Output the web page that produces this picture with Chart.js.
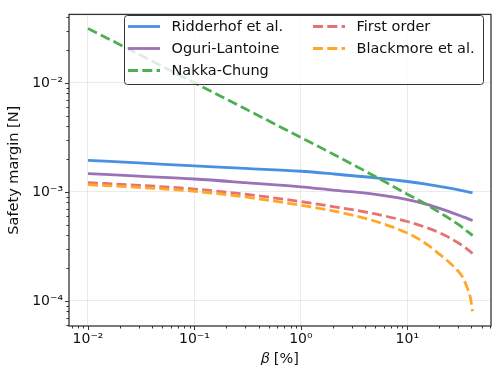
<!DOCTYPE html>
<html>
<head>
<meta charset="utf-8">
<script src="https://cdn.jsdelivr.net/npm/chart.js@4.4.1/dist/chart.umd.min.js"></script>
<style>
  body { margin: 0; background: #fff; }
  canvas { display: block; }
</style>
</head>
<body>
<canvas id="chart" width="499" height="375"></canvas>
<script>
// beta values [%] along the x axis
const beta = [0.01, 0.03, 0.1, 0.3, 1, 2, 5, 10, 15, 20, 25, 31, 33.6, 36, 39, 41];

// safety margin [N]
const ridderhof  = [1.941e-3, 1.837e-3, 1.730e-3, 1.637e-3, 1.542e-3, 1.459e-3, 1.343e-3, 1.242e-3, 1.175e-3, 1.122e-3, 1.079e-3, 1.035e-3, 1.019e-3, 1.005e-3, 0.989e-3, 0.980e-3];
const oguri      = [1.469e-3, 1.390e-3, 1.309e-3, 1.213e-3, 1.109e-3, 1.035e-3, 9.46e-4, 8.47e-4, 7.69e-4, 7.03e-4, 6.53e-4, 6.05e-4, 5.87e-4, 5.73e-4, 5.55e-4, 5.45e-4];
const nakkaChung = [3.16e-2, 1.83e-2, 1.0e-2, 5.77e-3, 3.15e-3, 2.22e-3, 1.38e-3, 9.5e-4, 7.7e-4, 6.45e-4, 5.65e-4, 4.9e-4, 4.62e-4, 4.38e-4, 4.12e-4, 3.96e-4];
const firstOrder = [1.211e-3, 1.146e-3, 1.059e-3, 9.48e-4, 8.11e-4, 7.31e-4, 6.25e-4, 5.33e-4, 4.70e-4, 4.20e-4, 3.77e-4, 3.33e-4, 3.15e-4, 3.00e-4, 2.82e-4, 2.71e-4];
const blackmore  = [1.16e-3, 1.096e-3, 1.01e-3, 8.95e-4, 7.5e-4, 6.67e-4, 5.36e-4, 4.17e-4, 3.33e-4, 2.67e-4, 2.23e-4, 1.80e-4, 1.60e-4, 1.36e-4, 1.08e-4, 8.0e-5];

const seriesNames = ['Ridderhof et al.', 'Oguri-Lantoine', 'Nakka-Chung', 'First order', 'Blackmore et al.'];
const seriesValues = [ridderhof, oguri, nakkaChung, firstOrder, blackmore];
const seriesColors = ['#4a90e2', '#9b72b5', '#4caf50', '#e57373', '#ffa726'];
const seriesDashed = [false, false, true, true, true];

const xTicks = [0.01, 0.1, 1, 10];
const xTickLabels = ['10⁻²', '10⁻¹', '10⁰', '10¹'];
const yTicks = [1e-4, 1e-3, 1e-2];
const yTickLabels = ['10⁻⁴', '10⁻³', '10⁻²'];

const DASH = [10, 4.3];
const FONT = 'DejaVu Sans';
Chart.defaults.font.family = FONT;
Chart.defaults.color = '#111';

const datasets = seriesNames.map((name, i) => ({
  label: name,
  data: beta.map((b, j) => ({ x: b, y: seriesValues[i][j] })),
  borderColor: seriesColors[i],
  backgroundColor: seriesColors[i],
  borderWidth: 2.8,
  borderDash: seriesDashed[i] ? DASH : [],
  pointRadius: 0,
  fill: false,
  cubicInterpolationMode: 'monotone',
  order: seriesNames.length - i,
}));

// ticks, frame and the two-column legend, drawn the matplotlib way
const framePlugin = {
  id: 'frame',
  afterDraw(chart) {
    const ctx = chart.ctx;
    const { left, right, top, bottom } = chart.chartArea;
    const xs = chart.scales.x, ys = chart.scales.y;
    ctx.save();
    ctx.strokeStyle = '#333';
    ctx.lineWidth = 1;
    ctx.beginPath();
    for (let e = -3; e <= 2; e++) {
      for (let m = 1; m < 10; m++) {
        const v = m * Math.pow(10, e);
        const px = Math.round(xs.getPixelForValue(v)) + 0.5;
        if (px < left || px > right) continue;
        const len = m === 1 ? 4 : 2.5;
        ctx.moveTo(px, bottom); ctx.lineTo(px, bottom + len);
      }
    }
    for (let e = -6; e <= -1; e++) {
      for (let m = 1; m < 10; m++) {
        const v = m * Math.pow(10, e);
        const py = Math.round(ys.getPixelForValue(v)) + 0.5;
        if (py < top || py > bottom) continue;
        const len = m === 1 ? 4 : 2.5;
        ctx.moveTo(left, py); ctx.lineTo(left - len, py);
      }
    }
    ctx.stroke();

    ctx.lineWidth = 1.3;
    ctx.strokeStyle = '#333';
    ctx.strokeRect(left, top, right - left, bottom - top);

    // legend
    const bx = 124, by = 15, bw = 359, bh = 69;
    ctx.beginPath();
    ctx.roundRect(bx + 0.5, by + 0.5, bw, bh, 3);
    ctx.fillStyle = 'rgba(255,255,255,0.8)';
    ctx.fill();
    ctx.lineWidth = 1;
    ctx.strokeStyle = '#333';
    ctx.stroke();

    const colX = [128, 313];
    const rowY = [26.5, 48.5, 70.5];
    ctx.font = '14.5px "' + FONT + '"';
    ctx.textBaseline = 'middle';
    ctx.fillStyle = '#111';
    chart.data.datasets.forEach((ds, i) => {
      const col = i < 3 ? 0 : 1;
      const row = i < 3 ? i : i - 3;
      const x = colX[col], y = rowY[row];
      ctx.beginPath();
      ctx.setLineDash(ds.borderDash || []);
      ctx.strokeStyle = ds.borderColor;
      ctx.lineWidth = 2.8;
      ctx.moveTo(x, y); ctx.lineTo(x + 32, y);
      ctx.stroke();
      ctx.setLineDash([]);
      ctx.fillText(ds.label, x + 43.5, y + 0.5);
    });
    ctx.restore();
  }
};

new Chart(document.getElementById('chart'), {
  type: 'line',
  data: { datasets },
  options: {
    responsive: false,
    animation: false,
    devicePixelRatio: 1,
    layout: { padding: { left: 0, top: 7, right: 8, bottom: 0 } },
    plugins: { legend: { display: false }, tooltip: { enabled: false } },
    scales: {
      x: {
        type: 'logarithmic',
        position: 'bottom',
        min: 0.00663,
        max: 61.1,
        afterBuildTicks: (s) => { s.ticks = xTicks.map(v => ({ value: v })); },
        afterFit: (s) => { s.height = 49; },
        grid: { color: 'rgba(0,0,0,0.08)', lineWidth: 1, drawTicks: false },
        border: { display: false },
        ticks: {
          autoSkip: false, maxRotation: 0, padding: 5,
          font: { size: 14 }, color: '#111',
          callback: (v) => xTickLabels[xTicks.indexOf(v)] ?? '',
        },
        title: { display: true, text: '𝛽 [%]', font: { size: 14.5 }, color: '#111', padding: { top: 0, bottom: 7 } },
      },
      y: {
        type: 'logarithmic',
        position: 'left',
        min: 5.85e-5,
        max: 0.0425,
        afterBuildTicks: (s) => { s.ticks = yTicks.map(v => ({ value: v })); },
        afterFit: (s) => { s.width = 69; },
        grid: { color: 'rgba(0,0,0,0.08)', lineWidth: 1, drawTicks: false },
        border: { display: false },
        ticks: {
          autoSkip: false, padding: 6, labelOffset: 1,
          font: { size: 14 }, color: '#111',
          callback: (v) => yTickLabels[yTicks.indexOf(v)] ?? '',
        },
        title: { display: true, text: 'Safety margin [N]', font: { size: 14.5 }, color: '#111', padding: { top: 6, bottom: 0 } },
      },
    },
  },
  plugins: [framePlugin],
});
</script>
</body>
</html>
